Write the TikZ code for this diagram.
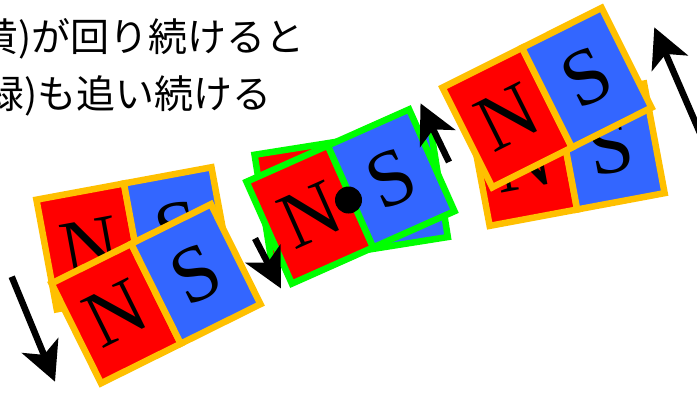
\documentclass[tikz,border=0pt]{standalone}
\usepackage{fontspec}
\setmainfont{Liberation Serif}
\newfontfamily\jpfont{Noto Sans CJK JP}
\usetikzlibrary{arrows.meta}

\definecolor{magred}{RGB}{255,0,0}
\definecolor{magblue}{RGB}{51,102,255}
\definecolor{rimgold}{RGB}{255,192,0}
\definecolor{rimgreen}{RGB}{0,255,0}

\tikzset{
  pole/.style={draw=#1, line width=6.5pt, minimum width=89pt, minimum height=111.5pt,
    inner sep=0pt, outer sep=0pt, font=\fontsize{80}{80}\selectfont, transform shape},
  npole/.style={pole=#1, fill=magred},
  spole/.style={pole=#1, fill=magblue},
  turn/.style={-{Stealth[length=39pt,width=39pt,inset=10pt]}, line width=6.5pt, black},
  caption/.style={font=\jpfont\fontsize{39}{39}\selectfont, anchor=base east, inner sep=0pt},
  pivot/.style={circle, fill=black, minimum size=27pt, inner sep=0pt}
}

% a bar magnet: name, centre x, centre y, rotation, rim colour
\newcommand\barmagnet[5]{%
  \begin{scope}[shift={(#2,#3)}, rotate=#4]
    \node[npole=#5] (#1n) at (-44.5,0) {N};
    \node[spole=#5] (#1s) at (44.5,0) {S};
  \end{scope}}

\begin{document}
\begin{tikzpicture}[x=1pt, y=1pt]
  \useasboundingbox (0,0) rectangle (697,-394);
  \clip (0,0) rectangle (697,-394);

  % left pair
  \barmagnet{lb}{134.1}{-238.3}{10.5}{rimgold}
  \barmagnet{lf}{156}{-293.75}{26.4}{rimgold}

  % middle pair (green rim) with pivot
  \barmagnet{mb}{351.2}{-195.9}{9}{rimgreen}
  \barmagnet{mf}{350.5}{-196.5}{24}{rimgreen}
  \node[pivot] (pv) at (348.5,-200) {};

  % right pair
  \barmagnet{rb}{566.9}{-154.7}{10.6}{rimgold}
  \barmagnet{rf}{547}{-97.6}{26.6}{rimgold}

  % rotation arrows
  \coordinate (a1s) at (11.7,-276.7);  \coordinate (a1e) at (55,-381.7);
  \coordinate (a2s) at (255,-238.5);   \coordinate (a2e) at (281,-288.5);
  \coordinate (a3s) at (449,-162);     \coordinate (a3e) at (420.5,-103.3);
  \coordinate (a4s) at (700,-133);     \coordinate (a4e) at (654.3,-27.3);
  \draw[turn] (a1s) -- (a1e);
  \draw[turn] (a2s) -- (a2e);
  \draw[turn] (a3s) -- (a3e);
  \draw[turn] (a4s) -- (a4e);

  % caption
  \node[caption] (t1) at (305,-51) {黄)が回り続けると};
  \node[caption] (t2) at (272,-108) {緑)も追い続ける};
\end{tikzpicture}
\end{document}
